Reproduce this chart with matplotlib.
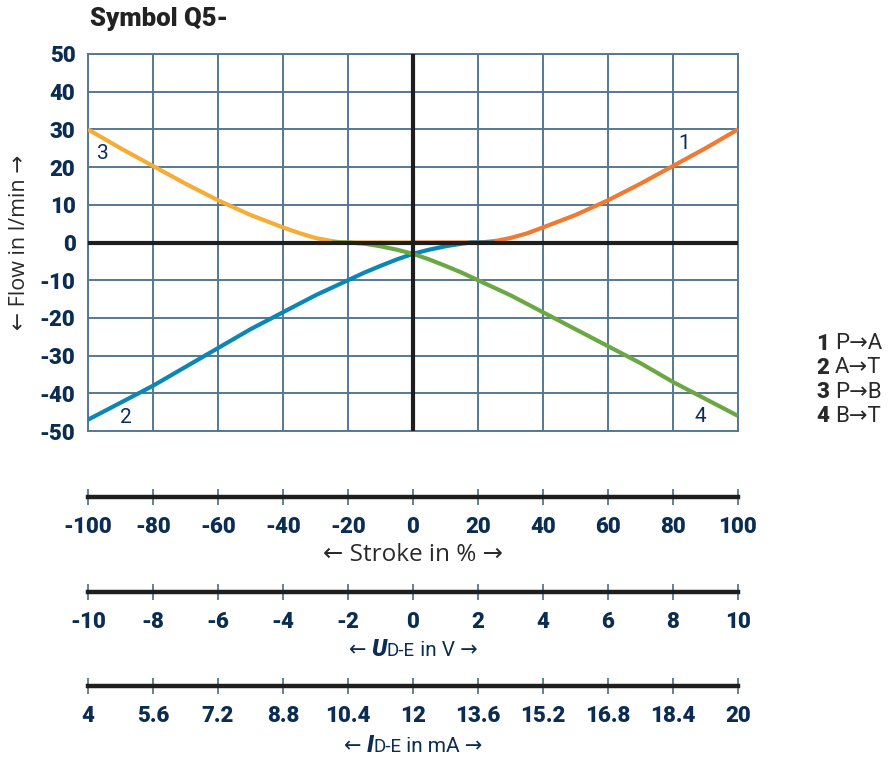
import matplotlib
matplotlib.use("Agg")
import matplotlib.pyplot as plt
from matplotlib.offsetbox import TextArea, HPacker, AnnotationBbox

plt.rcParams['font.family'] = ['Roboto', 'DejaVu Sans']
plt.rcParams['axes.unicode_minus'] = False

NAVY = '#0B2D52'
GRID = '#557892'
DARK = '#2a2a2a'

# ---- data ----
c1_x = [0, 10, 18, 22, 26, 30, 35, 40, 50, 60, 70, 80, 90, 100]
c1_y = [0, 0, 0, 0.1, 0.5, 1.2, 2.4, 4.0, 7.3, 11.2, 15.6, 20.3, 25, 30]
c2_x = [-100, -90, -80, -70, -60, -50, -40, -30, -20, -15, -10, -5, 0, 5, 10, 15, 18, 25]
c2_y = [-47, -42.5, -38, -33, -28, -23, -18.5, -14, -10, -8, -6.2, -4.5, -3, -1.9, -1, -0.3, 0, 0]
c3_x = [-100, -90, -80, -70, -60, -50, -40, -35, -30, -25, -22, -10, 0]
c3_y = [30, 25, 20.3, 15.6, 11.2, 7.3, 4.0, 2.5, 1.2, 0.4, 0, 0, 0]
c4_x = [-25, -20, -15, -10, -5, 0, 5, 10, 15, 20, 30, 40, 50, 60, 70, 80, 90, 100]
c4_y = [0, 0, -0.3, -1, -1.9, -3, -4.5, -6.2, -8, -10, -14, -18.5, -23, -27.5, -32, -37, -41.5, -46]

curve_labels = ['1', '2', '3', '4']
label_pos = [(83.5, 26.3), (-88.3, -46.4), (-95.4, 23.6), (88.3, -46.2)]
legend_items = [('1', 'P→A'), ('2', 'A→T'), ('3', 'P→B'), ('4', 'B→T')]

y_ticks = [-50, -40, -30, -20, -10, 0, 10, 20, 30, 40, 50]
stroke_ticks = [-100, -80, -60, -40, -20, 0, 20, 40, 60, 80, 100]
u_labels = ['-10', '-8', '-6', '-4', '-2', '0', '2', '4', '6', '8', '10']
i_labels = ['4', '5.6', '7.2', '8.8', '10.4', '12', '13.6', '15.2', '16.8', '18.4', '20']

colors = ['#F07A32', '#0A87B5', '#F5AD38', '#6BA843']

W, H = 888, 758
fig = plt.figure(figsize=(W / 100, H / 100), dpi=100)

def fx(px):
    return px / W

def fy(py):
    return 1 - py / H

L, R, T, B = 88, 738, 54, 431
ax = fig.add_axes([fx(L), fy(B), fx(R) - fx(L), fy(T) - fy(B)])
ax.set_xlim(-100, 100)
ax.set_ylim(-50, 50)
ax.set_xticks(stroke_ticks)
ax.set_yticks(y_ticks)
ax.grid(True, color=GRID, lw=1.4)
ax.set_axisbelow(True)
for s in ax.spines.values():
    s.set_color(GRID)
    s.set_linewidth(1.4)
ax.tick_params(axis='x', length=0, labelbottom=False)
ax.tick_params(axis='y', length=0, labelsize=16, labelcolor=NAVY, pad=9)
for t in ax.get_yticklabels():
    t.set_fontweight('heavy')

for xs, ys, c in zip([c1_x, c2_x, c3_x, c4_x], [c1_y, c2_y, c3_y, c4_y], colors):
    ax.plot(xs, ys, color=c, lw=3, solid_capstyle='butt', solid_joinstyle='round', zorder=3)
ax.axhline(0, color='#1e1e1e', lw=3, zorder=4)
ax.axvline(0, color='#1e1e1e', lw=3, zorder=4)

for lab, (x, y) in zip(curve_labels, label_pos):
    ax.text(x, y, lab, ha='center', va='center', fontsize=15, color=NAVY, zorder=5)

ax.set_ylabel('← Flow in l/min →', fontsize=15.5, color=DARK, labelpad=7,
              family=['Open Sans', 'DejaVu Sans'])

fig.text(fx(90), fy(19), 'Symbol Q5-', fontsize=18.5, fontweight='heavy', color='#222222',
         ha='left', va='center')

# legend at right
for i, (num, txt) in enumerate(legend_items):
    yy = fy(344 + i * 24)
    fig.text(fx(816), yy, num, fontsize=16, fontweight='heavy', color=DARK, ha='left', va='center')
    fig.text(fx(835), yy, txt, fontsize=16, color=DARK, ha='left', va='center')

# bottom scales
def scale_axis(line_py, labels):
    a = fig.add_axes([fx(L), fy(line_py + 20), fx(R) - fx(L), 40 / H])
    a.set_xlim(-100, 100)
    a.set_ylim(-1, 1)
    for k in ['top', 'left', 'right']:
        a.spines[k].set_visible(False)
    a.spines['bottom'].set_position(('data', 0))
    a.spines['bottom'].set_color('#1e1e1e')
    a.spines['bottom'].set_linewidth(3.2)
    a.set_yticks([])
    a.set_xticks(stroke_ticks)
    a.set_xticklabels(labels)
    a.tick_params(axis='x', direction='inout', length=11, width=1.3, color=GRID,
                  labelsize=16, labelcolor=NAVY, pad=8)
    for t in a.get_xticklabels():
        t.set_fontweight('heavy')
    a.patch.set_visible(False)
    return a

scale_axis(497, [str(v) for v in stroke_ticks])
scale_axis(592, u_labels)
scale_axis(686, i_labels)

cx = fx((L + R) / 2)
fig.text(cx, fy(555), '← Stroke in % →', fontsize=17.5, color=DARK, ha='center', va='center',
         family=['Open Sans', 'DejaVu Sans'])

def packed_label(sym, unit, py):
    parts = [
        TextArea('← ', textprops=dict(fontsize=15, color=NAVY)),
        TextArea(sym, textprops=dict(fontsize=17, color=NAVY, fontweight='heavy', fontstyle='italic')),
        TextArea('D-E', textprops=dict(fontsize=13.5, color=NAVY)),
        TextArea(' in ' + unit + ' →', textprops=dict(fontsize=15, color=NAVY)),
    ]
    box = HPacker(children=parts, align='baseline', pad=0, sep=0)
    ab = AnnotationBbox(box, (cx, fy(py)), xycoords='figure fraction', frameon=False,
                        box_alignment=(0.5, 0.5), pad=0)
    fig.add_artist(ab)

packed_label('U', 'V', 650)
packed_label('I', 'mA', 745)

fig.savefig('out.png', dpi=100)
